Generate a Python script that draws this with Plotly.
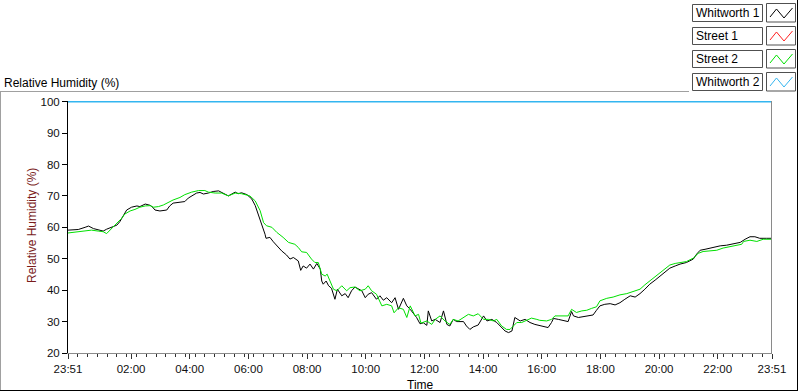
import pandas as pd
import plotly.graph_objects as go

# ---------------- data (minutes after 23:51, relative humidity %) ----------------
w1_min = [0, 21, 35, 42, 52, 62, 72, 79, 89, 100, 106, 113, 120, 130, 141, 147, 158, 168, 173, 178,
          188, 202, 208, 215, 229, 239, 246, 253, 263, 270, 277, 287, 297, 308, 314, 321, 328, 335,
          342, 348, 355, 366, 376, 383, 389, 396, 403, 405, 413, 420, 427, 437, 447, 454, 461, 471,
          476, 481, 488, 495, 502, 509, 516, 519, 522, 528, 533, 539, 546, 551, 560, 567, 573, 580,
          587, 594, 601, 608, 614, 621, 631, 638, 645, 652, 662, 669, 676, 686, 693, 700, 706, 713,
          720, 727, 734, 737, 744, 751, 761, 768, 775, 781, 788, 795, 809, 815, 822, 829, 839, 850,
          857, 867, 877, 887, 894, 901, 908, 914, 925, 935, 945, 955, 966, 976, 982, 989, 993, 1003,
          1013, 1023, 1030, 1034, 1044, 1054, 1064, 1074, 1081, 1088, 1098, 1109, 1119, 1129, 1139,
          1150, 1160, 1170, 1180, 1190, 1201, 1211, 1221, 1231, 1242, 1252, 1265, 1279, 1286, 1293,
          1303, 1313, 1323, 1334, 1347, 1361, 1375, 1385, 1395, 1405, 1415, 1429, 1440]
w1_rh = [59.1, 59.3, 60.0, 60.4, 59.6, 59.3, 58.8, 59.4, 60.0, 60.7, 61.8, 63.9, 65.5, 66.4, 66.8, 66.6,
         67.4, 67.0, 66.4, 65.5, 65.2, 65.5, 66.8, 67.7, 67.9, 68.2, 69.3, 70.0, 70.9, 71.1, 70.6, 70.9,
         71.4, 71.6, 71.1, 70.4, 70.0, 70.6, 71.2, 70.7, 71.0, 70.4, 69.0, 66.9, 64.2, 61.5, 57.8, 56.5,
         56.8, 55.4, 54.1, 52.5, 51.2, 49.9, 50.4, 49.3, 46.3, 47.7, 47.0, 48.3, 46.7, 48.5, 46.7, 42.9,
         41.9, 42.9, 41.4, 40.6, 37.1, 40.3, 38.2, 38.9, 37.6, 39.8, 41.0, 40.3, 39.8, 37.6, 38.7, 39.2,
         37.1, 38.2, 36.8, 37.6, 36.0, 37.6, 33.9, 37.4, 35.0, 33.9, 32.8, 31.3, 29.3, 29.6, 28.8, 33.4,
         30.2, 30.7, 29.7, 33.4, 29.1, 28.6, 30.7, 30.0, 30.0, 28.6, 27.5, 28.3, 28.9, 31.8, 30.2, 30.7,
         29.7, 28.1, 27.0, 26.5, 27.0, 31.3, 30.2, 30.7, 29.7, 29.1, 28.6, 28.3, 28.1, 29.7, 31.0, 30.7,
         30.4, 30.0, 33.2, 31.8, 31.3, 31.5, 31.8, 32.1, 33.6, 35.0, 35.5, 35.7, 35.3, 36.0, 37.1, 38.2,
         37.8, 38.9, 40.3, 41.9, 43.2, 44.5, 45.9, 47.0, 47.7, 48.3, 48.8, 49.9, 51.5, 52.7, 53.0, 53.4,
         53.6, 54.1, 54.3, 54.8, 55.2, 56.2, 57.0, 57.0, 56.5, 56.5, 56.5]

s2_min = [0, 21, 35, 48, 62, 72, 79, 86, 96, 103, 110, 116, 127, 137, 147, 158, 168, 175, 185, 195,
          205, 215, 229, 239, 253, 267, 280, 287, 301, 314, 328, 342, 355, 372, 383, 393, 400, 406,
          417, 427, 440, 451, 464, 471, 478, 488, 498, 505, 512, 519, 526, 530, 536, 543, 550, 560,
          570, 577, 587, 597, 608, 614, 621, 631, 642, 652, 662, 667, 676, 686, 693, 700, 710, 717,
          722, 734, 744, 751, 761, 771, 781, 788, 798, 809, 819, 829, 839, 850, 860, 870, 877, 887,
          897, 904, 911, 918, 928, 938, 948, 959, 965, 979, 989, 996, 1010, 1023, 1030, 1040, 1051,
          1061, 1071, 1081, 1088, 1102, 1115, 1129, 1143, 1156, 1170, 1180, 1190, 1201, 1211, 1221,
          1231, 1242, 1252, 1265, 1279, 1289, 1299, 1313, 1327, 1340, 1354, 1368, 1378, 1382, 1395,
          1409, 1422, 1440]
s2_rh = [58.2, 58.6, 58.9, 59.1, 58.8, 58.6, 58.0, 59.1, 60.4, 61.5, 62.9, 64.2, 65.2, 65.7, 66.4, 66.8,
         66.9, 66.4, 66.6, 67.1, 67.9, 68.7, 69.5, 70.4, 71.2, 71.7, 71.7, 71.2, 70.9, 70.9, 70.0, 70.9,
         70.7, 70.0, 68.4, 65.3, 61.5, 60.5, 60.0, 58.4, 56.8, 55.2, 54.6, 53.6, 52.2, 52.0, 49.9, 48.8,
         48.8, 45.1, 44.5, 45.1, 42.9, 40.3, 39.8, 41.4, 39.8, 40.8, 41.0, 39.8, 40.3, 41.4, 39.8, 38.7,
         35.0, 35.5, 35.0, 32.8, 34.4, 33.9, 31.3, 35.0, 31.8, 32.3, 29.5, 30.2, 29.1, 30.7, 31.8, 30.2,
         29.1, 30.7, 30.2, 31.3, 32.3, 31.8, 32.5, 30.7, 30.7, 30.2, 30.7, 28.6, 27.5, 27.5, 28.6, 29.7,
         29.7, 30.4, 31.1, 30.7, 30.4, 30.2, 30.7, 31.8, 31.8, 31.8, 33.9, 32.9, 33.4, 33.6, 34.2, 34.7,
         36.6, 37.4, 37.8, 38.5, 38.9, 39.5, 40.3, 41.7, 42.9, 44.5, 45.6, 46.7, 48.0, 48.5, 48.8, 49.1,
         50.2, 51.7, 52.3, 52.5, 52.7, 53.4, 53.8, 54.1, 54.6, 55.5, 55.9, 55.5, 56.2, 56.2]

w2_min = [0, 1440]
w2_rh = [100, 100]

series_names = ["Whitworth 1", "Street 1", "Street 2", "Whitworth 2"]
series_colors = ["#000000", "#ff2020", "#00e000", "#33b5f0"]

tick_labels = ["23:51", "02:00", "04:00", "06:00", "08:00", "10:00", "12:00",
               "14:00", "16:00", "18:00", "20:00", "22:00", "23:51"]
tick_minutes = [0, 129, 249, 369, 489, 609, 729, 849, 969, 1089, 1209, 1329, 1440]
y_ticks = [20, 30, 40, 50, 60, 70, 80, 90, 100]

start = pd.Timestamp("2021-03-01 23:51")
def tt(mins):
    return [start + pd.Timedelta(minutes=m) for m in mins]

# ---------------- figure ----------------
W, H = 800, 392
L, R, T, B = 68, 772, 101, 353
def px(x): return (x - L) / (R - L)
def py(y): return (B - y) / (B - T)

FONT = "Liberation Sans, Arial, sans-serif"

fig = go.Figure()
fig.add_trace(go.Scatter(x=tt(w1_min), y=w1_rh, mode="lines", name=series_names[0],
                         line=dict(color=series_colors[0], width=1), showlegend=False))
fig.add_trace(go.Scatter(x=tt(s2_min), y=s2_rh, mode="lines", name=series_names[2],
                         line=dict(color=series_colors[2], width=1), showlegend=False))
fig.add_trace(go.Scatter(x=tt(w2_min), y=w2_rh, mode="lines", name=series_names[3],
                         line=dict(color=series_colors[3], width=1.5), showlegend=False))

shapes = []
def seg(x0, y0, x1, y1, color, w=1):
    shapes.append(dict(type="line", xref="paper", yref="paper",
                       x0=px(x0), y0=py(y0), x1=px(x1), y1=py(y1),
                       line=dict(color=color, width=w)))

# outer frame
seg(0, 91.5, 689, 91.5, "#a0a0a0")
seg(0.5, 91.5, 0.5, 391, "#a0a0a0")
seg(0, 390.5, 798, 390.5, "#000000")
seg(797.5, 0, 797.5, 391, "#000000")
# plot right border
seg(771.5, T, 771.5, B, "#8a8a8a")

annotations = []
# legend
for i, (nm, col) in enumerate(zip(series_names, series_colors)):
    top = 4 + 23 * i
    shapes.append(dict(type="rect", xref="paper", yref="paper",
                       x0=px(692.5), x1=px(762.5), y0=py(top + 0.5), y1=py(top + 17.5),
                       line=dict(color="#505050", width=1), fillcolor="white"))
    shapes.append(dict(type="rect", xref="paper", yref="paper",
                       x0=px(766.5), x1=px(795.5), y0=py(top - 0.5), y1=py(top + 18),
                       line=dict(color="#505050", width=1), fillcolor="white"))
    pts = [(770, top + 13), (776.5, top + 5), (784, top + 14), (792.5, top + 4)]
    path = "M " + " L ".join(f"{px(a):.5f},{py(b):.5f}" for a, b in pts)
    shapes.append(dict(type="path", xref="paper", yref="paper", path=path,
                       line=dict(color=col, width=1)))
    annotations.append(dict(xref="paper", yref="paper", x=px(694), y=py(top + 9),
                            xanchor="left", yanchor="middle", showarrow=False, text=nm,
                            font=dict(family=FONT, size=12, color="#000000")))

annotations.append(dict(xref="paper", yref="paper", x=px(2), y=py(82.5), xanchor="left",
                        yanchor="middle", showarrow=False, text="Relative Humidity (%)",
                        font=dict(family=FONT, size=12, color="#000000")))
annotations.append(dict(xref="paper", yref="paper", x=px(32), y=py(226), xanchor="center",
                        yanchor="middle", showarrow=False, text="Relative Humidity (%)",
                        textangle=-90, font=dict(family=FONT, size=12, color="#7a1c1c")))
annotations.append(dict(xref="paper", yref="paper", x=px(420), y=py(384.5), xanchor="center",
                        yanchor="middle", showarrow=False, text="Time",
                        font=dict(family=FONT, size=12, color="#000000")))

fig.update_layout(
    width=W, height=H,
    margin=dict(l=L, r=W - R, t=T, b=H - B, pad=0),
    paper_bgcolor="white", plot_bgcolor="white",
    shapes=shapes, annotations=annotations,
    xaxis=dict(range=[start, start + pd.Timedelta(minutes=1440)],
               tickmode="array", tickvals=tt(tick_minutes), ticktext=tick_labels,
               ticks="outside", ticklen=5, tickcolor="#303030", tickwidth=1,
               showline=True, linecolor="#8a8a8a", linewidth=1,
               showgrid=False, zeroline=False,
               tickfont=dict(family=FONT, size=11.5, color="#101010"),
               minor=dict(tick0=start, dtick=20 * 60 * 1000, ticks="outside", ticklen=3,
                          tickcolor="#303030", showgrid=False)),
    yaxis=dict(range=[20, 100.2], tickmode="array", tickvals=y_ticks,
               ticks="outside", ticklen=5, tickcolor="#000000",
               showline=True, linecolor="#000000", linewidth=1,
               showgrid=False, zeroline=False,
               tickfont=dict(family=FONT, size=11.5, color="#101010")),
)

fig.write_html("out.html", config={"displayModeBar": False},
               post_script="document.body.style.margin='0px';document.body.style.overflow='hidden';")
